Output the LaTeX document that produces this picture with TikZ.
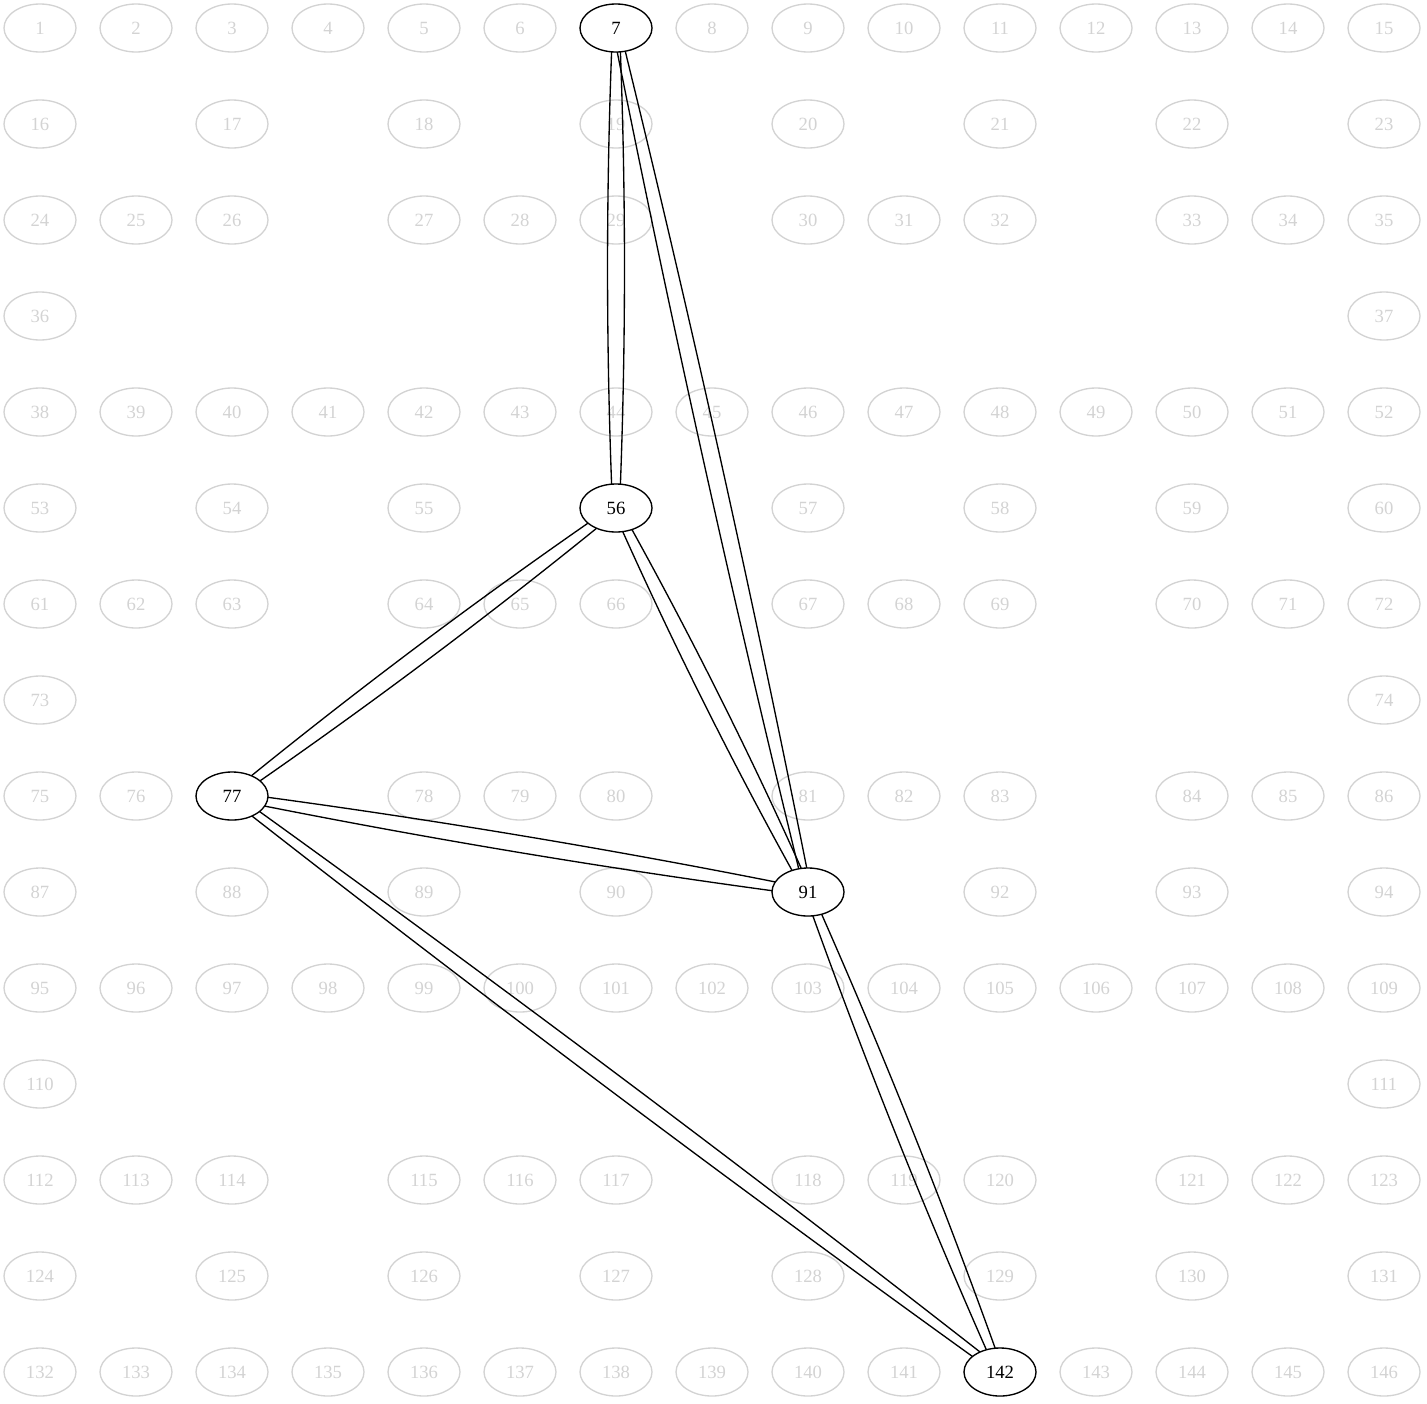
\documentclass[tikz,border=0pt]{standalone}
\usepackage{fontspec}
\setmainfont{Liberation Serif}
\usetikzlibrary{calc, shapes.geometric}
\definecolor{lightgrey}{HTML}{D3D3D3}

\begin{document}
\begin{tikzpicture}[x=0.75pt, y=0.75pt, yscale=-1,
  every node/.style={ellipse, minimum width=54pt, minimum height=36pt, inner sep=0pt,
    line width=1pt, font=\fontsize{14}{16}\selectfont},
  dim/.style={draw=lightgrey, text=lightgrey},
  key/.style={draw=black, fill=white},
  edge/.style={line width=1pt}]
  \useasboundingbox (0,0) rectangle (1427,1403);
  % grid of faded nodes, row by row
  \foreach \r/\first/\cols in {0/1/{0,...,14}, 1/16/{0,2,...,14},
      2/24/{0,1,2,4,5,6,8,9,10,12,13,14}, 3/36/{0,14}, 4/38/{0,...,14},
      5/53/{0,2,...,14}, 6/61/{0,1,2,4,5,6,8,9,10,12,13,14}, 7/73/{0,14},
      8/75/{0,1,2,4,5,6,8,9,10,12,13,14}, 9/87/{0,2,...,14}, 10/95/{0,...,14},
      11/110/{0,14}, 12/112/{0,1,2,4,5,6,8,9,10,12,13,14}, 13/124/{0,2,...,14},
      14/132/{0,...,14}}
    \foreach \c [count=\i from 0] in \cols {
      \pgfmathtruncatemacro\n{\first+\i}
      \node[dim] (n\n) at ({40+96*\c}, {28+96*\r}) {\n};
    }
  % doubled edges
  \foreach \a/\b in {7/56, 7/91, 56/77, 56/91, 77/91, 77/142, 91/142}
    \foreach \s/\t in {90/-90, -90/90}
      \draw[edge] ($(n\a)!2.6pt!\s:(n\b)$)
        .. controls ($(n\a)!1/3!(n\b)!7.6pt!\s:(n\b)$) and ($(n\a)!2/3!(n\b)!7.6pt!\s:(n\b)$)
        .. ($(n\b)!2.6pt!\t:(n\a)$);
  % highlighted nodes on top
  \foreach \n in {7, 56, 77, 91, 142}
    \node[key] (n\n) at (n\n) {\n};
\end{tikzpicture}
\end{document}
